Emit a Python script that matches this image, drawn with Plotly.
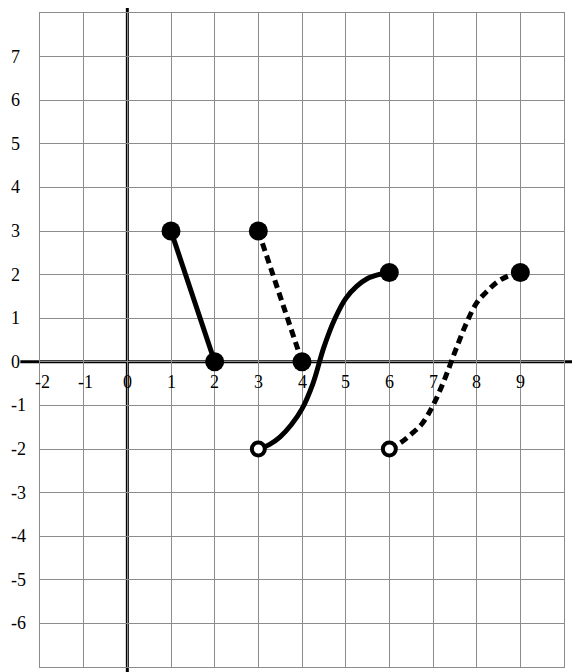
"""Piecewise function sketch on a square grid."""

import plotly.graph_objects as go

# axis extents and tick labels
x_range = [-2, 10]
y_range = [-7, 8]
x_ticks = [-2, -1, 0, 1, 2, 3, 4, 5, 6, 7, 8, 9]
y_ticks = [7, 6, 5, 4, 3, 2, 1, 0, -1, -2, -3, -4, -5, -6]

# straight pieces
seg1_x = [1, 2]
seg1_y = [3, 0]
seg2_x = [3, 4]
seg2_y = [3, 0]

# curved pieces (every quarter unit)
curve1_x = [3, 3.25, 3.5, 3.75, 4.0, 4.25, 4.5, 4.75, 5.0, 5.25, 5.5, 5.75, 6]
curve1_y = [-2, -1.9, -1.72, -1.45, -1.08, -0.5, 0.33, 0.98, 1.45, 1.73, 1.91, 2.0, 2.05]
curve2_x = [6, 6.25, 6.5, 6.75, 7.0, 7.25, 7.5, 7.75, 8.0, 8.25, 8.5, 8.75, 9]
curve2_y = [-2, -1.86, -1.66, -1.42, -1.0, -0.44, 0.22, 0.85, 1.35, 1.63, 1.85, 1.98, 2.05]

# end points
closed_x = [1, 2, 3, 4, 6, 9]
closed_y = [3, 0, 3, 0, 2.05, 2.05]
open_x = [3, 6]
open_y = [-2, -2]

FONT = "Liberation Serif"
GRID = "#8c8c8c"
DASH = "8px,5px"

fig = go.Figure()

# lines
fig.add_trace(go.Scatter(x=seg1_x, y=seg1_y, mode='lines',
                         line=dict(color='black', width=5)))
fig.add_trace(go.Scatter(x=seg2_x, y=seg2_y, mode='lines',
                         line=dict(color='black', width=5, dash=DASH)))
fig.add_trace(go.Scatter(x=curve1_x, y=curve1_y, mode='lines',
                         line=dict(color='black', width=5, shape='spline',
                                   smoothing=1)))
fig.add_trace(go.Scatter(x=curve2_x, y=curve2_y, mode='lines',
                         line=dict(color='black', width=5, shape='spline',
                                   smoothing=1, dash=DASH)))

# end points
fig.add_trace(go.Scatter(x=closed_x, y=closed_y, mode='markers',
                         marker=dict(color='black', size=19),
                         cliponaxis=False))
fig.add_trace(go.Scatter(x=open_x, y=open_y, mode='markers',
                         marker=dict(color='white', size=13,
                                     line=dict(color='black', width=4)),
                         cliponaxis=False))


def to_paper_x(v):
    return (v - x_range[0]) / (x_range[1] - x_range[0])


def to_paper_y(v):
    return (v - y_range[0]) / (y_range[1] - y_range[0])


# coordinate axes, a little longer than the grid
fig.add_shape(type='line', xref='paper', yref='paper', layer='between',
              x0=to_paper_x(-2.45), x1=to_paper_x(10.5),
              y0=to_paper_y(0), y1=to_paper_y(0),
              line=dict(color='black', width=3))
fig.add_shape(type='line', xref='paper', yref='paper', layer='between',
              x0=to_paper_x(0), x1=to_paper_x(0),
              y0=to_paper_y(-7.15), y1=to_paper_y(8.15),
              line=dict(color='black', width=3))

# tick labels along the x axis (just under the axis line)
for v in x_ticks:
    fig.add_annotation(x=v, y=0, xref='x', yref='y', text=str(v),
                       showarrow=False, yshift=-20,
                       xshift=2 if v < 0 else 0,
                       font=dict(family=FONT, size=18, color='black'))

# tick labels at the left, left aligned
for v in y_ticks:
    fig.add_annotation(x=0, y=v, xref='paper', yref='y', text=str(v),
                       showarrow=False, xanchor='left', xshift=-31,
                       font=dict(family=FONT, size=18, color='black'))

fig.update_xaxes(range=x_range, tick0=0, dtick=1, showgrid=True,
                 gridcolor=GRID, gridwidth=1, zeroline=False,
                 showticklabels=False, showline=True, mirror=True,
                 linecolor=GRID, linewidth=1, fixedrange=True)
fig.update_yaxes(range=y_range, tick0=0, dtick=1, showgrid=True,
                 gridcolor=GRID, gridwidth=1, zeroline=False,
                 showticklabels=False, showline=True, mirror=True,
                 linecolor=GRID, linewidth=1, fixedrange=True)

# the page body adds 8px around the figure, so the margins allow for it
fig.update_layout(width=572, height=664, showlegend=False,
                  margin=dict(l=32, r=16, t=5, b=5),
                  plot_bgcolor='white', paper_bgcolor='white')

fig.write_html("out.html")
